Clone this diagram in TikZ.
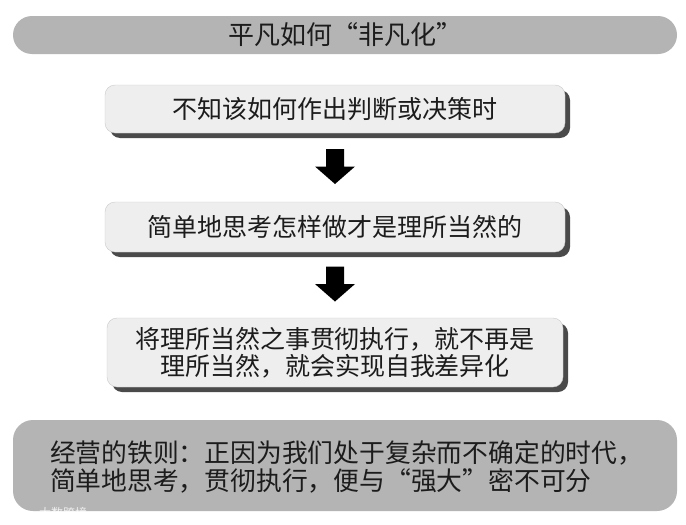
\documentclass[tikz,border=0pt]{standalone}
\usepackage{fontspec}
\newfontfamily\cjk{Noto Sans CJK SC}
\usetikzlibrary{shadows,calc}
\definecolor{bargray}{HTML}{B4B4B4}
\definecolor{boxfill}{HTML}{EEEEEE}
\definecolor{shadowgray}{HTML}{4A4A4A}
\definecolor{txt}{HTML}{1C1C1C}
\begin{document}
\begin{tikzpicture}[x=1pt,y=-1pt,
  cjktext/.style={font=\cjk\fontsize{25}{27}\selectfont, text=txt},
  graybar/.style={cjktext, fill=bargray, draw=none, inner sep=0pt},
  stepbox/.style={cjktext, fill=boxfill, draw=boxfill!85!black, line width=0.4pt,
     rounded corners=10pt, inner sep=0pt, minimum width=460pt, align=center,
     drop shadow={shadow xshift=5pt, shadow yshift=-5pt, fill=shadowgray, opacity=1}},
  downarrow/.pic={\fill[black] (-9,-17.5) -- (9,-17.5) -- (9,0) -- (20,0) -- (0,17.5) -- (-20,0) -- (-9,0) -- cycle;}
]
\useasboundingbox (0,0) rectangle (686,525);
\fill[white] (0,0) rectangle (686,525);

% title bar
\node[graybar, rounded corners=19pt, minimum width=664pt, minimum height=38pt,
      font=\cjk\fontsize{26}{28}\selectfont] (title) at (345,35) {平凡如何“非凡化”};

% step boxes
\node[stepbox, minimum height=48pt] (b1) at (335,109) {不知该如何作出判断或决策时};
\node[stepbox, minimum height=50pt] (b2) at (335,227) {简单地思考怎样做才是理所当然的};
\node[stepbox, minimum width=456pt, minimum height=69pt] (b3) at (335,352.5)
  {将理所当然之事贯彻执行，就不再是\\理所当然，就会实现自我差异化};

% block arrows
\coordinate (a1) at ($(b1.south)!0.5!(b2.north)$);
\coordinate (a2) at ($(b2.south)!0.5!(b3.north)$);
\pic at ($(a1)+(0,-1)$) {downarrow};
\pic at ($(a2)+(0,-1)$) {downarrow};

% bottom box
\node[graybar, rounded corners=20pt, minimum width=664pt, minimum height=91pt] (bottom) at (345,465.5) {};
\node[cjktext, font=\cjk\fontsize{25.8}{28}\selectfont, align=left, anchor=west, inner sep=0pt] (rule) at ($(bottom.west)+(37,1)$)
  {经营的铁则：正因为我们处于复杂而不确定的时代，\\简单地思考，贯彻执行，便与“强大”密不可分};

% watermark
\node[font=\cjk\fontsize{12}{12}\selectfont, text=white, opacity=0.8] (wm) at (63,513) {大数跨境};
\end{tikzpicture}
\end{document}
